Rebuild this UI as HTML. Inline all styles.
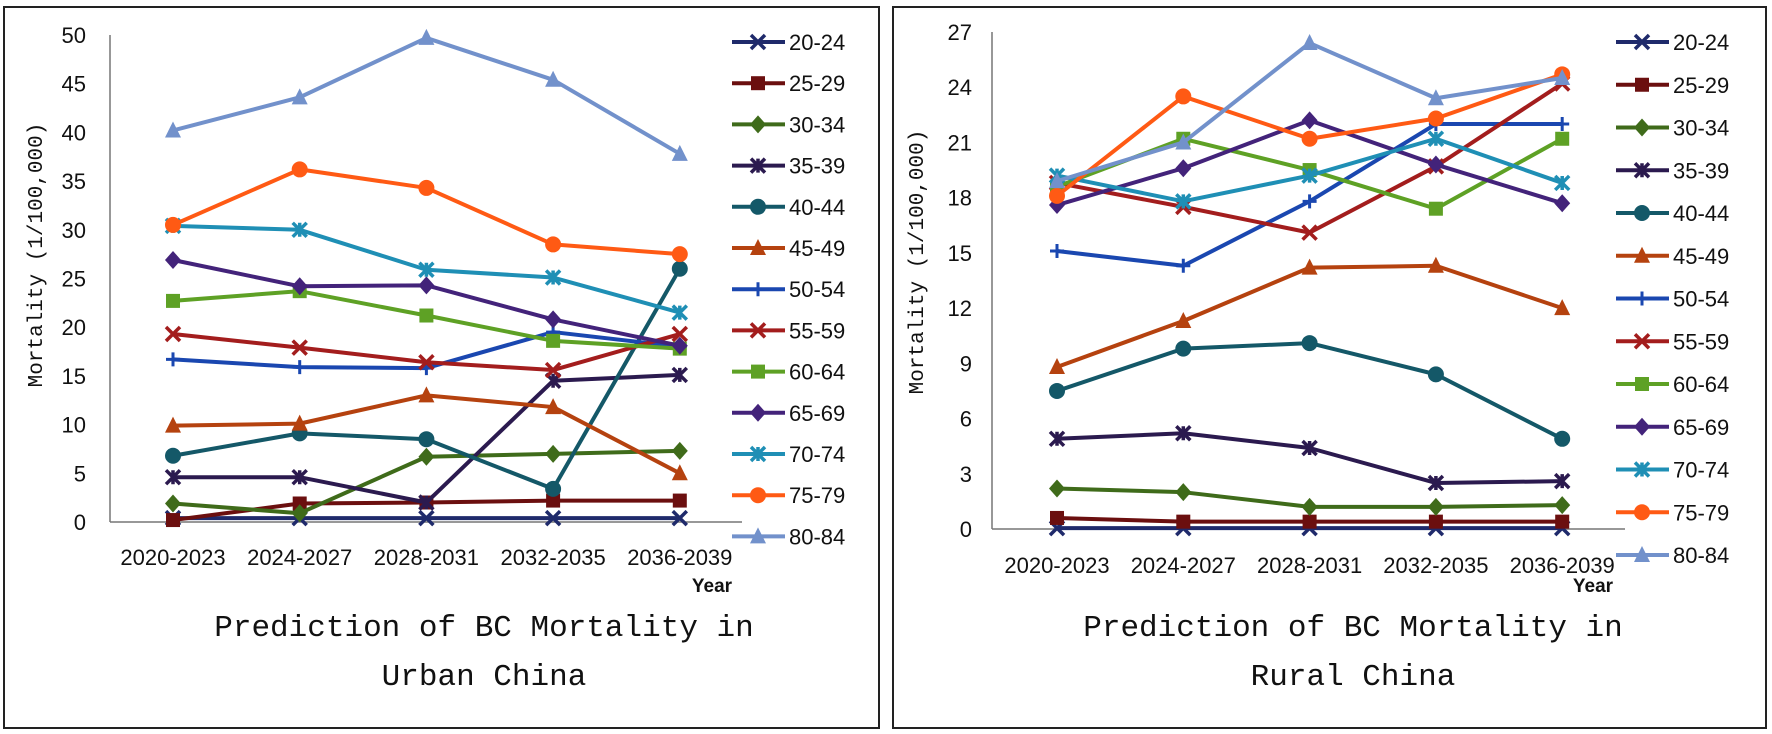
<!DOCTYPE html>
<html><head><meta charset="utf-8">
<style>
html,body{margin:0;padding:0;background:#fff;}
svg{display:block;}
.tick{font-family:"Liberation Sans Narrow","Liberation Sans",sans-serif;font-size:22px;fill:#111;}
.leg{font-family:"Liberation Sans Narrow","Liberation Sans",sans-serif;font-size:22px;fill:#111;}
.ytitle{font-family:"Liberation Mono",monospace;font-size:21px;fill:#111;}
.title{font-family:"Liberation Mono",monospace;font-size:31px;fill:#111;}
.year{font-family:"Liberation Sans Narrow","Liberation Sans",sans-serif;font-size:19px;font-weight:bold;fill:#111;}
</style></head>
<body>
<svg id="chart" width="1772" height="734" xmlns="http://www.w3.org/2000/svg"></svg>
<script>
const categories = ["2020-2023","2024-2027","2028-2031","2032-2035","2036-2039"];
const seriesNames = ["20-24","25-29","30-34","35-39","40-44","45-49","50-54","55-59","60-64","65-69","70-74","75-79","80-84"];
const urbanTicks = [0,5,10,15,20,25,30,35,40,45,50];
const ruralTicks = [0,3,6,9,12,15,18,21,24,27];
const urban2024 = [0.4,0.2,1.9,4.6,6.8,9.9,16.7,19.3,22.7,26.9,30.4,30.5,40.2];
const urbanValues = [
 [0.4,0.4,0.4,0.4,0.4],
 [0.2,1.9,2.0,2.2,2.2],
 [1.9,0.9,6.7,7.0,7.3],
 [4.6,4.6,2.0,14.5,15.1],
 [6.8,9.1,8.5,3.4,26.0],
 [9.9,10.1,13.0,11.8,5.0],
 [16.7,15.9,15.8,19.5,18.0],
 [19.3,17.9,16.4,15.6,19.3],
 [22.7,23.7,21.2,18.6,17.8],
 [26.9,24.2,24.3,20.8,18.1],
 [30.4,30.0,25.9,25.1,21.5],
 [30.5,36.2,34.3,28.5,27.5],
 [40.2,43.6,49.7,45.4,37.8]
];
const ruralValues = [
 [0.05,0.05,0.05,0.05,0.05],
 [0.6,0.4,0.4,0.4,0.4],
 [2.2,2.0,1.2,1.2,1.3],
 [4.9,5.2,4.4,2.5,2.6],
 [7.5,9.8,10.1,8.4,4.9],
 [8.8,11.3,14.2,14.3,12.0],
 [15.1,14.3,17.8,22.0,22.0],
 [18.8,17.5,16.1,19.7,24.2],
 [18.6,21.2,19.5,17.4,21.2],
 [17.6,19.6,22.2,19.8,17.7],
 [19.2,17.8,19.2,21.2,18.8],
 [18.1,23.5,21.2,22.3,24.7],
 [18.9,21.0,26.4,23.4,24.5]
];
const colors = ["#1f2a6b","#6b0f0f","#3f6b1a","#2b1a4f","#145868","#b5420f","#1a47b0","#a31d1d","#5ea125","#43237a","#1f8fb5","#ff5a14","#7291cb"];
const markers = ["x","square","diamond","star","circle","triangle","plus","x","square","diamond","star","circle","triangle"];

const NS="http://www.w3.org/2000/svg";
const svg=document.getElementById('chart');
function mk(tag,attrs,parent){const e=document.createElementNS(NS,tag);for(const k in attrs)e.setAttribute(k,attrs[k]);(parent||svg).appendChild(e);return e;}

function marker(g,type,x,y,c){
  const s=7;let e;
  if(type==="square"){e=mk('rect',{x:x-s,y:y-s,width:2*s,height:2*s,fill:c},g);}
  else if(type==="circle"){e=mk('circle',{cx:x,cy:y,r:s+1,fill:c},g);}
  else if(type==="diamond"){e=mk('polygon',{points:`${x},${y-s-2} ${x+s+1},${y} ${x},${y+s+2} ${x-s-1},${y}`,fill:c},g);}
  else if(type==="triangle"){e=mk('polygon',{points:`${x},${y-s-2} ${x+s+1},${y+s} ${x-s-1},${y+s}`,fill:c},g);}
  else if(type==="plus"){e=mk('path',{d:`M${x-s} ${y}H${x+s}M${x} ${y-s}V${y+s}`,stroke:c,'stroke-width':3,fill:'none'},g);}
  else if(type==="x"){e=mk('path',{d:`M${x-s} ${y-s}L${x+s} ${y+s}M${x+s} ${y-s}L${x-s} ${y+s}`,stroke:c,'stroke-width':3.5,fill:'none'},g);}
  else {e=mk('path',{d:`M${x-s} ${y-s}L${x+s} ${y+s}M${x+s} ${y-s}L${x-s} ${y+s}M${x} ${y-s}V${y+s}`,stroke:c,'stroke-width':3.5,fill:'none'},g);}
  
  
}

function panel(cfg){
  const g=mk('g',{});
  
  
  const border=mk('rect',{x:cfg.bx,y:7,width:cfg.bw,height:721,fill:'none',stroke:'#222','stroke-width':2},g);
  
  
  const yMax=cfg.ticks[cfg.ticks.length-1];
  const ys=v=>cfg.y0+(cfg.y1-cfg.y0)*v/yMax;
  const xs=i=>cfg.x0+cfg.dx*i;
  const ya=mk('line',{x1:cfg.ax,y1:cfg.y1,x2:cfg.ax,y2:cfg.y0,stroke:'#777','stroke-width':1.5},g);
  
  
  const xa=mk('line',{x1:cfg.ax,y1:cfg.y0,x2:cfg.axEnd,y2:cfg.y0,stroke:'#777','stroke-width':1.5},g);
  
  
  cfg.ticks.forEach(t=>{
    const e=mk('text',{x:cfg.tickX,y:ys(t)+8,'text-anchor':'end',class:'tick'},g);e.textContent=t;
    
    
  });
  categories.forEach((c,i)=>{
    const e=mk('text',{x:xs(i),y:cfg.labY,'text-anchor':'middle',class:'tick'},g);e.textContent=c;
    
    
  });
  const yr=mk('text',{x:cfg.yearX,y:592,'text-anchor':'middle',class:'year'},g);yr.textContent='Year';
  
  
  const yt=mk('text',{x:0,y:0,'text-anchor':'middle',class:'ytitle',transform:`translate(${cfg.ytX},${cfg.ytY}) rotate(-90)`},g);yt.textContent='Mortality (1/100,000)';
  
  
  cfg.titles.forEach((t,i)=>{
    const e=mk('text',{x:cfg.titleX,y:636+49*i,'text-anchor':'middle',class:'title'},g);e.textContent=t;
    
    
  });
  cfg.values.forEach((vals,si)=>{
    const sg=mk('g',{},g);
    
    
    const pts=vals.map((v,i)=>`${xs(i)},${ys(v)}`).join(' ');
    const pl=mk('polyline',{points:pts,fill:'none',stroke:colors[si],'stroke-width':4,'stroke-linejoin':'round'},sg);
    
    
    vals.forEach((v,i)=>marker(sg,markers[si],xs(i),ys(v),colors[si]));
    const ly=cfg.legY0+cfg.legDy*si;
    const lg=mk('g',{},g);
    
    
    mk('line',{x1:cfg.legX,y1:ly,x2:cfg.legX+53,y2:ly,stroke:colors[si],'stroke-width':4},lg);
    marker(lg,markers[si],cfg.legX+26,ly,colors[si]);
    const lt=mk('text',{x:cfg.legX+57,y:ly+8,class:'leg'},lg);lt.textContent=seriesNames[si];
  });
}

panel({name:'urban-chart',bx:4,bw:875,x0:173,dx:126.7,ax:110,axEnd:742,y0:522,y1:35,ticks:urbanTicks,values:urbanValues,
  tickX:86,labY:565,yearX:712,ytX:42,ytY:255,titleX:484,titles:['Prediction of BC Mortality in','Urban China'],legX:732,legY0:42,legDy:41.2});
panel({name:'rural-chart',bx:893,bw:873,x0:1057,dx:126.3,ax:992,axEnd:1625,y0:529,y1:32,ticks:ruralTicks,values:ruralValues,
  tickX:972,labY:573,yearX:1593,ytX:923,ytY:262,titleX:1353,titles:['Prediction of BC Mortality in','Rural China'],legX:1616,legY0:42,legDy:42.75});
</script>
</body></html>
